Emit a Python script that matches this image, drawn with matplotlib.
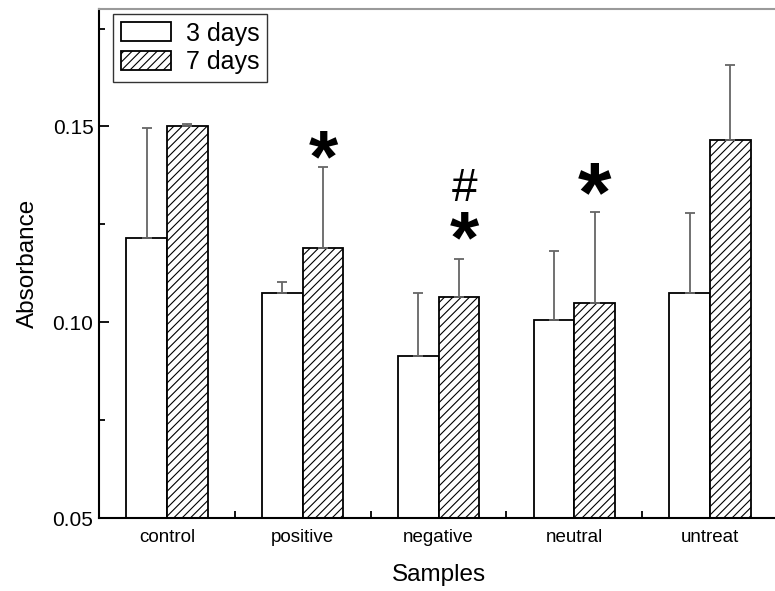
import matplotlib
matplotlib.use('Agg')
import matplotlib.pyplot as plt
import numpy as np
from matplotlib.ticker import FixedLocator

plt.rcParams['font.family'] = ['Liberation Sans', 'DejaVu Sans']
plt.rcParams['hatch.linewidth'] = 0.8

categories = ['control', 'positive', 'negative', 'neutral', 'untreat']
series_labels = ['3 days', '7 days']
day3 = [0.1216, 0.1075, 0.0914, 0.1006, 0.1074]
day3_err = [0.0281, 0.0027, 0.0160, 0.0177, 0.0206]
day7 = [0.1502, 0.1190, 0.1065, 0.1048, 0.1466]
day7_err = [0.0004, 0.0207, 0.0097, 0.0233, 0.0192]

# significance marks: (category index, symbol, centre value)
mark_cat = [1, 2, 2, 3]
mark_sym = ['*', '#', '*', '*']
mark_val = [0.1461, 0.1352, 0.1255, 0.1375]

fig = plt.figure(figsize=(7.75, 5.91), dpi=100)
ax = fig.add_axes([99/775, 73/591, 679/775, 509/591])

x = np.arange(1, len(categories) + 1)
w = 0.30
err_kw = dict(ecolor='#666666', elinewidth=1.3, capsize=3.8, capthick=1.3)
ax.bar(x - w/2, day3, w, color='white', edgecolor='black', linewidth=1.3,
       yerr=[np.zeros(len(day3)), day3_err], error_kw=err_kw, label=series_labels[0], zorder=2)
ax.bar(x + w/2, day7, w, color='white', edgecolor='black', linewidth=1.3, hatch='////',
       yerr=[np.zeros(len(day7)), day7_err], error_kw=err_kw, label=series_labels[1], zorder=2)

ax.set_xlim(0.5, 5.5)
ax.set_ylim(0.05, 0.18)

ax.set_xticks(x)
ax.set_xticklabels(categories, fontsize=13.5)
ax.xaxis.set_minor_locator(FixedLocator(x[:-1] + 0.5))
ax.tick_params(axis='x', which='major', length=0, pad=8)
ax.tick_params(axis='x', which='minor', direction='in', length=5, width=1.3)

ax.set_yticks([0.05, 0.10, 0.15])
ax.set_yticklabels(['0.05', '0.10', '0.15'], fontsize=15)
ax.yaxis.set_minor_locator(FixedLocator([0.075, 0.125, 0.175]))
ax.tick_params(axis='y', which='major', direction='in', length=7.5, width=1.3, pad=4)
ax.tick_params(axis='y', which='minor', direction='in', length=4, width=1.3)

for s in ['left', 'bottom']:
    ax.spines[s].set_linewidth(1.5)
    ax.spines[s].set_color('black')
ax.spines['top'].set_color('#9a9a9a')
ax.spines['top'].set_linewidth(1.5)
ax.spines['right'].set_visible(False)

ax.set_xlabel('Samples', fontsize=17.5, labelpad=13)
ax.set_ylabel('Absorbance', fontsize=17.5, labelpad=10)

for c, sym, v in zip(mark_cat, mark_sym, mark_val):
    xc = x[c] + w/2 + (0.04 if c == 2 else 0.0)
    if sym == '*':
        size = 62 if c == 3 else 54
        ax.annotate(sym, xy=(xc, v), xytext=(0, -0.53 * size), textcoords='offset points',
                    ha='center', va='baseline', fontsize=size, fontweight='bold')
    else:
        size = 33
        ax.annotate(sym, xy=(xc, v), xytext=(0, -0.36 * size), textcoords='offset points',
                    ha='center', va='baseline', fontsize=size, fontweight='medium')

leg = ax.legend(loc='upper left', bbox_to_anchor=(14/679, 1 - 5/509), borderaxespad=0,
                fontsize=18, frameon=True, fancybox=False, handlelength=2.0,
                handleheight=0.8, handletextpad=0.6, labelspacing=0.2, borderpad=0.3)
leg.get_frame().set_edgecolor('black')
leg.get_frame().set_linewidth(1.0)

fig.savefig('out.png', dpi=100)
